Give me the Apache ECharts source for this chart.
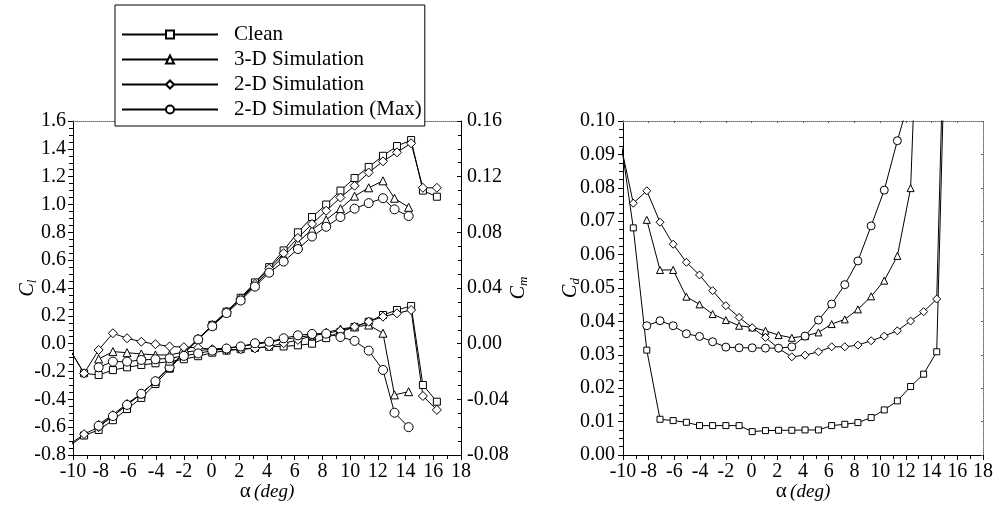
<!DOCTYPE html>
<html><head><meta charset="utf-8">
<script src="https://cdn.jsdelivr.net/npm/echarts@6/dist/echarts.min.js"></script>
<style>html,body{margin:0;padding:0;background:#fff}#c{width:997px;height:509px}</style>
</head><body><div id="c"></div>
<script>
const seriesNames = ['Clean', '3-D Simulation', '2-D Simulation', '2-D Simulation (Max)'];
const xTicks = [-10, 18, 2];

// angle of attack (deg)
const alphaA = [-10.2, -9.2, -8.15, -7.12, -6.1, -5.07, -4.05, -3.03, -2.0, -0.97, 0.05, 1.08, 2.1, 3.13, 4.16, 5.2, 6.23, 7.25, 8.27, 9.3, 10.32, 11.34, 12.37, 13.38, 14.4, 15.25, 16.26];
const alphaB = [-8.15, -7.12, -6.1, -5.07, -4.05, -3.03, -2.0, -0.97, 0.05, 1.08, 2.1, 3.13, 4.16, 5.2, 6.23, 7.25, 8.27, 9.3, 10.32, 11.34, 12.37, 13.2, 14.22];

// lift coefficient
const clClean = [-0.73, -0.66, -0.62, -0.55, -0.47, -0.39, -0.29, -0.18, -0.07, 0.03, 0.135, 0.23, 0.33, 0.44, 0.55, 0.67, 0.80, 0.91, 1.00, 1.10, 1.19, 1.27, 1.35, 1.42, 1.463, 1.10, 1.056];
const cl3D    = [-0.58, -0.51, -0.43, -0.36, -0.27, -0.17, -0.065, 0.035, 0.13, 0.225, 0.32, 0.42, 0.525, 0.63, 0.73, 0.82, 0.89, 0.97, 1.06, 1.12, 1.17, 1.045, 0.98];
const cl2D    = [-0.72, -0.65, -0.60, -0.52, -0.44, -0.36, -0.27, -0.17, -0.065, 0.035, 0.135, 0.23, 0.325, 0.43, 0.54, 0.65, 0.76, 0.86, 0.955, 1.05, 1.135, 1.23, 1.31, 1.375, 1.44, 1.12, 1.12];
const cl2DMax = [-0.59, -0.52, -0.44, -0.36, -0.27, -0.17, -0.07, 0.03, 0.125, 0.22, 0.31, 0.41, 0.51, 0.59, 0.68, 0.77, 0.84, 0.91, 0.97, 1.01, 1.045, 0.965, 0.917];

// moment coefficient
const cmClean = [-0.0047, -0.0213, -0.0225, -0.019, -0.017, -0.0153, -0.0141, -0.0129, -0.0112, -0.009, -0.0065, -0.005, -0.004, -0.003, -0.0022, -0.002, -0.0012, 0.0, 0.004, 0.0085, 0.012, 0.0158, 0.0206, 0.0242, 0.0271, -0.0297, -0.0417];
const cm3D    = [-0.011, -0.0057, -0.0065, -0.0074, -0.0081, -0.0081, -0.006, -0.005, -0.004, -0.003, -0.002, -0.0005, 0.001, 0.003, 0.0045, 0.006, 0.008, 0.0105, 0.012, 0.0134, 0.0075, -0.0368, -0.0345];
const cm2D    = [-0.0047, -0.0213, -0.0045, 0.0075, 0.0039, 0.0014, -0.0004, -0.002, -0.0025, -0.003, -0.004, -0.0045, -0.004, -0.0034, -0.002, 0.0003, 0.0027, 0.0055, 0.0075, 0.0093, 0.0122, 0.0158, 0.0194, 0.0218, 0.0242, -0.0376, -0.0476];
const cm2DMax = [-0.017, -0.0129, -0.0129, -0.0117, -0.0112, -0.0105, -0.0088, -0.007, -0.005, -0.0035, -0.002, 0.0003, 0.0014, 0.0039, 0.006, 0.007, 0.0072, 0.0048, 0.002, -0.005, -0.0189, -0.0496, -0.060];

// drag coefficient
const cdClean = [0.095, 0.068, 0.0314, 0.0107, 0.0103, 0.0098, 0.0088, 0.0088, 0.0088, 0.0088, 0.0070, 0.0073, 0.0074, 0.0074, 0.0075, 0.0075, 0.0088, 0.0092, 0.0097, 0.0112, 0.0135, 0.0162, 0.0205, 0.0242, 0.0309, 0.155, 0.17];
const cd3D    = [0.0704, 0.0554, 0.0554, 0.0474, 0.0451, 0.0422, 0.0404, 0.0387, 0.0382, 0.0372, 0.0359, 0.0351, 0.0356, 0.0367, 0.0392, 0.0406, 0.0436, 0.0475, 0.0522, 0.0596, 0.0799, 0.165, 0.2];
const cd2D    = [0.0934, 0.0754, 0.0791, 0.0697, 0.0631, 0.0577, 0.0539, 0.0492, 0.0447, 0.0412, 0.0381, 0.0352, 0.0319, 0.0294, 0.0299, 0.0309, 0.0324, 0.0324, 0.0329, 0.0342, 0.0356, 0.0372, 0.0401, 0.0429, 0.0467, 0.17, 0.18];
const cd2DMax = [0.0387, 0.0402, 0.0387, 0.0363, 0.0355, 0.0339, 0.0323, 0.0321, 0.0321, 0.0320, 0.0320, 0.0324, 0.0356, 0.0404, 0.0452, 0.051, 0.0581, 0.0686, 0.0793, 0.0941, 0.108, 0.13, 0.16];

const FONT = 'Liberation Serif';
const symbols = ['rect', 'triangle', 'diamond', 'circle'];
const symSizeL = [7, 8, 9, 9];
const symSizeR = [6, 7, 8, 8];
const alphas = [alphaA, alphaB, alphaA, alphaB];
const clSets = [clClean, cl3D, cl2D, cl2DMax];
const cmSets = [cmClean, cm3D, cm2D, cm2DMax];
const cdSets = [cdClean, cd3D, cd2D, cd2DMax];

function pairs(xs, ys) { return xs.map((x, i) => [x, ys[i]]); }
function mk(name, idx, data, xi, yi, size) {
  return {
    name: name, type: 'line', xAxisIndex: xi, yAxisIndex: yi, data: data,
    symbol: symbols[idx], symbolSize: size, showAllSymbol: true, clip: true,
    lineStyle: { color: '#000', width: 1 },
    itemStyle: { color: '#fff', borderColor: '#000', borderWidth: 1 },
    emphasis: { disabled: true }, animation: false
  };
}
const series = [];
seriesNames.forEach((n, i) => series.push(mk(n, i, pairs(alphas[i], clSets[i]), 0, 0, symSizeL[i])));
seriesNames.forEach((n, i) => series.push(mk(n, i, pairs(alphas[i], cmSets[i]), 0, 1, symSizeL[i])));
seriesNames.forEach((n, i) => series.push(mk(n, i, pairs(alphas[i], cdSets[i]), 2, 2, symSizeR[i])));

const lab = { fontFamily: FONT, fontSize: 20, color: '#000' };
const solid = { show: true, onZero: false, lineStyle: { color: '#000', width: 1 } };
const dotted = { show: true, onZero: false, lineStyle: { color: '#666', width: 1, type: [1, 1] } };
function fmt(d) { return v => (Math.abs(v) < 1e-9 ? 0 : v).toFixed(d); }
const nameRich = {
  c: { fontFamily: FONT, fontSize: 20, fontStyle: 'italic', color: '#000' },
  s: { fontFamily: FONT, fontSize: 13, fontStyle: 'italic', color: '#000', verticalAlign: 'bottom', padding: [10, 0, 0, 0] }
};
const xName = {
  name: '{a|α} {b|(deg)}', nameLocation: 'middle', nameGap: 26, nameMoveOverlap: false,
  nameTextStyle: { rich: { a: { fontFamily: FONT, fontSize: 21, color: '#000' }, b: { fontFamily: FONT, fontSize: 19, fontStyle: 'italic', color: '#000' } } }
};
function xBottom(g) {
  return Object.assign({
    gridIndex: g, type: 'value', min: xTicks[0], max: xTicks[1], interval: xTicks[2], position: 'bottom',
    axisLine: solid, axisTick: { show: true, length: 5, lineStyle: { color: '#000' } },
    minorTick: { show: true, splitNumber: 2, length: 4, lineStyle: { color: '#000' } },
    axisLabel: Object.assign({ margin: 7, formatter: v => String(v) }, lab), splitLine: { show: false }
  }, xName);
}
function xTop(g, ticks) {
  return {
    gridIndex: g, type: 'value', min: xTicks[0], max: xTicks[1], interval: xTicks[2], position: 'top',
    axisLine: dotted, axisTick: { show: ticks, inside: true, length: 2, lineStyle: { color: '#666' } },
    axisLabel: { show: false }, splitLine: { show: false }
  };
}

const option = {
  backgroundColor: '#fff',
  animation: false,
  legend: {
    data: seriesNames, orient: 'vertical', left: 115, top: 5,
    backgroundColor: '#fff', borderColor: '#000', borderWidth: 1,
    padding: [19, 3, 6, 6], itemGap: 4, itemWidth: 96, itemHeight: 10,
    textStyle: { fontFamily: FONT, fontSize: 21, color: '#000', lineHeight: 21, padding: [0, 0, 0, 11] },
    selectedMode: false, z: 10
  },
  grid: [
    { left: 73, top: 121, width: 388, height: 334 },
    { left: 623, top: 121, width: 360, height: 334 }
  ],
  xAxis: [xBottom(0), xTop(0, false), xBottom(1), xTop(1, true)],
  yAxis: [
    { gridIndex: 0, type: 'value', min: -0.8, max: 1.6, interval: 0.2, position: 'left',
      axisLine: solid, axisTick: { show: true, length: 5, lineStyle: { color: '#000' } },
      minorTick: { show: true, splitNumber: 4, length: 4, lineStyle: { color: '#000' } },
      axisLabel: Object.assign({ margin: 7, formatter: fmt(1) }, lab), splitLine: { show: false },
      name: '{c|C}{s|l}', nameLocation: 'middle', nameGap: 34, nameMoveOverlap: false, nameTextStyle: { rich: nameRich } },
    { gridIndex: 0, type: 'value', min: -0.08, max: 0.16, interval: 0.04, position: 'right',
      axisLine: solid, axisTick: { show: true, inside: true, length: 4, lineStyle: { color: '#000' } },
      minorTick: { show: true, splitNumber: 4, length: 3, lineStyle: { color: '#000' } },
      axisLabel: Object.assign({ margin: 6, formatter: fmt(2) }, lab), splitLine: { show: false },
      name: '{c|C}{s|m}', nameLocation: 'middle', nameGap: 46, nameRotate: 90, nameMoveOverlap: false, nameTextStyle: { rich: nameRich } },
    { gridIndex: 1, type: 'value', min: 0, max: 0.1, interval: 0.01, position: 'left',
      axisLine: solid, axisTick: { show: true, length: 5, lineStyle: { color: '#000' } },
      minorTick: { show: true, splitNumber: 4, length: 4, lineStyle: { color: '#000' } },
      axisLabel: Object.assign({ margin: 8, formatter: fmt(2) }, lab), splitLine: { show: false },
      name: '{c|C}{s|d}', nameLocation: 'middle', nameGap: 41, nameMoveOverlap: false, nameTextStyle: { rich: nameRich } },
    { gridIndex: 1, type: 'value', min: 0, max: 0.1, interval: 0.01, position: 'right',
      axisLine: dotted, axisTick: { show: true, inside: true, length: 2, lineStyle: { color: '#666' } },
      axisLabel: { show: false }, splitLine: { show: false } }
  ],
  series: series
};
const chart = echarts.init(document.getElementById('c'), null, { renderer: 'canvas' });
chart.setOption(option);
</script></body></html>
